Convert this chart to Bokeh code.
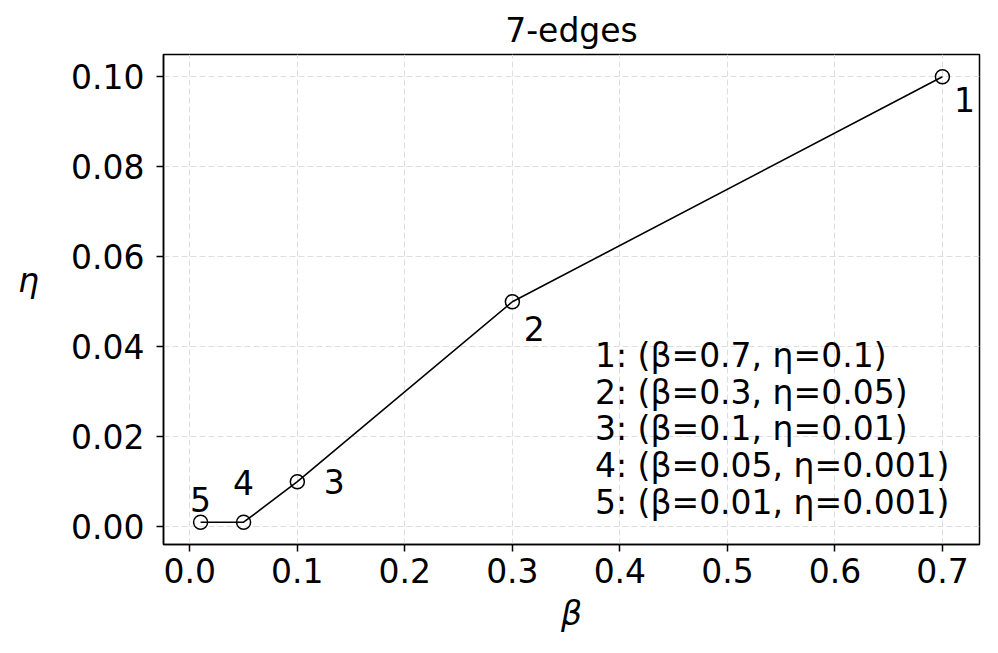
from bokeh.plotting import figure
from bokeh.models import ColumnDataSource, Range1d, FixedTicker, Label
from bokeh.core.properties import value
from bokeh.embed import file_html
from bokeh.resources import INLINE

# ---- data ----
point_ids = ["1", "2", "3", "4", "5"]
beta = [0.7, 0.3, 0.1, 0.05, 0.01]
eta = [0.1, 0.05, 0.01, 0.001, 0.001]
x_ticks = [0.0, 0.1, 0.2, 0.3, 0.4, 0.5, 0.6, 0.7]
y_ticks = [0.00, 0.02, 0.04, 0.06, 0.08, 0.10]
title_text = "7-edges"
x_label = "β"
y_label = "η"

legend_lines = [f"{pid}: (β={b:g}, η={e:g})" for pid, b, e in zip(point_ids, beta, eta)]

# ---- styles (label offsets in screen px) ----
label_dx = [22, 22, 37, 0, 0]
label_dy = [23, 27, 0, -40, -23]

FONT = "DejaVu Sans"
FS = "33px"

def padded(vals, frac=0.05):
    lo, hi = min(vals), max(vals)
    pad = (hi - lo) * frac
    return lo - pad, hi + pad

x0, x1 = padded(beta)
y0, y1 = padded(eta)

p = figure(width=982, height=637, output_backend="svg", toolbar_location=None,
           x_range=Range1d(x0, x1), y_range=Range1d(y0, y1),
           title=title_text,
           min_border_left=163, min_border_right=3,
           min_border_top=54, min_border_bottom=93)

p.background_fill_color = "white"
p.border_fill_color = "white"
p.outline_line_color = "black"
p.outline_line_width = 1.5
p.outline_line_alpha = 1.0

p.title.text_font = FONT
p.title.text_font_size = "33px"
p.title.text_font_style = "normal"
p.title.align = "center"
p.title.text_color = "black"

p.xaxis.ticker = FixedTicker(ticks=x_ticks)
p.yaxis.ticker = FixedTicker(ticks=y_ticks)
p.xaxis.major_label_overrides = {t: f"{t:.1f}" for t in x_ticks}
p.yaxis.major_label_overrides = {t: f"{t:.2f}" for t in y_ticks}

for ax in (p.xaxis[0], p.yaxis[0]):
    ax.major_label_text_font = FONT
    ax.major_label_text_font_size = FS
    ax.major_label_text_color = "black"
    ax.major_tick_out = 7
    ax.major_tick_in = 0
    ax.major_tick_line_width = 1.5
    ax.major_tick_line_color = "black"
    ax.minor_tick_line_color = None
    ax.axis_line_width = 1.5
    ax.axis_line_color = "black"
    ax.axis_label_text_font = FONT
    ax.axis_label_text_font_size = FS
    ax.axis_label_text_font_style = "italic"
    ax.axis_label_text_color = "black"

p.xaxis.major_label_standoff = 6
p.yaxis.major_label_standoff = 12

p.xaxis.axis_label = x_label
p.xaxis.axis_label_standoff = 8

# upright y label, sitting a little above the vertical centre (trailing empty line lifts it)
p.yaxis.axis_label = y_label + "\n"
p.yaxis.axis_label_orientation = "horizontal"
p.yaxis.axis_label_standoff = 29
p.yaxis.axis_label_text_line_height = 0.95

p.grid.grid_line_color = "#dedede"
p.grid.grid_line_dash = "6 3"
p.grid.grid_line_width = 1

p.line(beta, eta, line_color="black", line_width=1.6)
p.scatter(beta, eta, marker="circle", size=14, fill_color=None,
          line_color="black", line_width=1.5)

src = ColumnDataSource(dict(x=beta, y=eta, t=point_ids, dx=label_dx, dy=label_dy))
p.text(x="x", y="y", text="t", x_offset="dx", y_offset="dy", source=src,
       text_align="center", text_baseline="middle",
       text_font=value(FONT), text_font_size=FS, text_color="black")

line_x = 0.3768
line_y0 = 0.0381
line_step = 0.00816
for i, line in enumerate(legend_lines):
    p.add_layout(Label(x=line_x, y=line_y0 - i * line_step, text=line,
                       text_font=FONT, text_font_size=FS, text_color="black",
                       text_baseline="alphabetic", text_align="left"))

open("out.html", "w").write(file_html(p, INLINE))
